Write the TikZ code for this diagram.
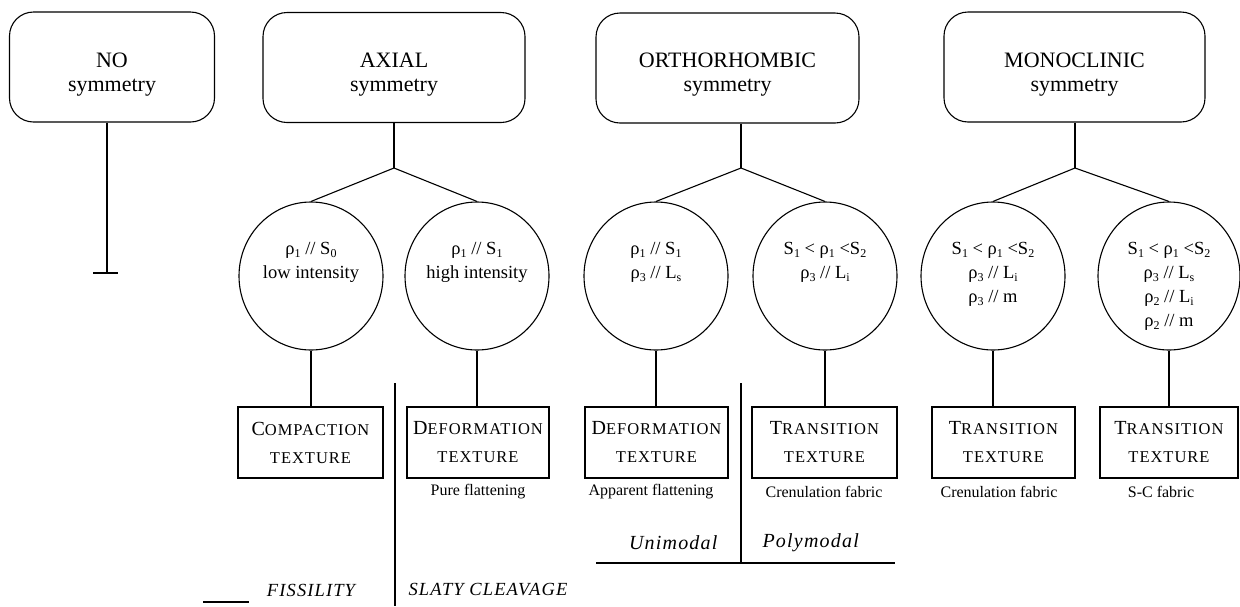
\documentclass[tikz,border=0pt]{standalone}
\usepackage{fontspec}
\setmainfont{Liberation Serif}
\newfontfamily\spacedfont[LetterSpace=6]{Liberation Serif}
\usetikzlibrary{shapes.geometric}
\newcommand\sbs[1]{\raisebox{-0.3ex}{\fontsize{12}{12}\selectfont #1}}
\newcommand\scbig[2]{{\spacedfont\fontsize{20}{22}\selectfont #1\fontsize{16.5}{22}\selectfont #2}}
\newcommand\scsmall[1]{{\spacedfont\fontsize{16.5}{22}\selectfont #1}}
\begin{document}
\begin{tikzpicture}[x=1pt,y=-1pt,line width=1.1pt,
  symbox/.style={draw,rounded corners=24pt,minimum height=110pt,inner sep=0pt},
  symtext/.style={inner sep=0pt,align=center,font=\fontsize{22}{24}\selectfont},
  circ/.style={draw,ellipse,minimum width=144pt,minimum height=148pt,inner sep=0pt},
  ctext/.style={anchor=north,align=center,inner sep=0pt,font=\fontsize{18.5}{24}\selectfont},
  texbox/.style={draw,minimum height=71pt,inner sep=0pt,align=center,
    font=\fontsize{20}{28}\selectfont},
  capt/.style={inner sep=0pt,font=\fontsize{16}{18}\selectfont},
  itl/.style={inner sep=0pt,font=\spacedfont\itshape\fontsize{20}{22}\selectfont},
  itlb/.style={inner sep=0pt,font=\spacedfont\itshape\fontsize{18.5}{22}\selectfont}]
\useasboundingbox (0,0) rectangle (1240,606);

% top boxes
\node[symbox,minimum width=205pt] (no) at (112,67) {};
\node[symbox,minimum width=262pt] (axial) at (394,67.5) {};
\node[symbox,minimum width=263pt] (ortho) at (727.5,68) {};
\node[symbox,minimum width=261pt] (mono) at (1074.5,67) {};
\node[symtext] (not) at (112,75) {NO\\symmetry};
\node[symtext] (axt) at (394,75) {AXIAL\\symmetry};
\node[symtext] (ort) at (727.5,75) {ORTHORHOMBIC\\symmetry};
\node[symtext] (mot) at (1074.5,75) {MONOCLINIC\\symmetry};

% NO symmetry stem
\coordinate (noend) at (107,273);
\coordinate (nobarl) at (93,273);
\coordinate (nobarr) at (118,273);
\draw (no.south -| noend) -- (noend);
\draw (nobarl) -- (nobarr);

% circles
\node[circ] (c1) at (311,276) {};
\node[circ] (c2) at (477,276) {};
\node[circ] (c3) at (656,276) {};
\node[circ] (c4) at (825,276) {};
\node[circ] (c5) at (993,276) {};
\node[circ,minimum width=142pt] (c6) at (1169,276) {};

\node[ctext] (t1) at (311,242) {ρ\sbs{1} // S\sbs{0}\\low intensity};
\node[ctext] (t2) at (477,242) {ρ\sbs{1} // S\sbs{1}\\high intensity};
\node[ctext] (t3) at (656,242) {ρ\sbs{1} // S\sbs{1}\\ρ\sbs{3} // L\sbs{s}};
\node[ctext] (t4) at (825,242) {S\sbs{1} < ρ\sbs{1} <S\sbs{2}\\ρ\sbs{3} // L\sbs{i}};
\node[ctext] (t5) at (993,242) {S\sbs{1} < ρ\sbs{1} <S\sbs{2}\\ρ\sbs{3} // L\sbs{i}\\ρ\sbs{3} // m};
\node[ctext] (t6) at (1169,242) {S\sbs{1} < ρ\sbs{1} <S\sbs{2}\\ρ\sbs{3} // L\sbs{s}\\ρ\sbs{2} // L\sbs{i}\\ρ\sbs{2} // m};

% branches
\coordinate (axb) at (394,168);
\coordinate (orb) at (741,168);
\coordinate (mob) at (1075,168);
\draw (axb |- axial.south) -- (axb);
\draw (c1.north) -- (axb) -- (c2.north);
\draw (orb |- ortho.south) -- (orb);
\draw (c3.north) -- (orb) -- (c4.north);
\draw (mob |- mono.south) -- (mob);
\draw (c5.north) -- (mob) -- (c6.north);

% texture boxes
\node[texbox,minimum width=145pt] (b1) at (310.5,442.5) {\scbig{C}{OMPACTION}\\\scsmall{TEXTURE}};
\node[texbox,minimum width=142pt] (b2) at (478,442.5) {\scbig{D}{EFORMATION}\\\scsmall{TEXTURE}};
\node[texbox,minimum width=143pt] (b3) at (656.5,442.5) {\scbig{D}{EFORMATION}\\\scsmall{TEXTURE}};
\node[texbox,minimum width=145pt] (b4) at (824.5,442.5) {\scbig{T}{RANSITION}\\\scsmall{TEXTURE}};
\node[texbox,minimum width=143pt] (b5) at (1003.5,442.5) {\scbig{T}{RANSITION}\\\scsmall{TEXTURE}};
\node[texbox,minimum width=138pt] (b6) at (1169,442.5) {\scbig{T}{RANSITION}\\\scsmall{TEXTURE}};

\foreach \c/\b in {c1/b1,c2/b2,c3/b3,c4/b4,c5/b5,c6/b6}
  \draw (\c.south) -- (\c.south |- \b.north);

% captions
\node[capt] (p2) at (478,492) {Pure flattening};
\node[capt] (p3) at (651,492) {Apparent flattening};
\node[capt] (p4) at (824,492) {Crenulation fabric};
\node[capt] (p5) at (999,492) {Crenulation fabric};
\node[capt] (p6) at (1161,492) {S-C fabric};

% separators
\coordinate (s1t) at (395,383);
\coordinate (s1b) at (395,606);
\draw (s1t) -- (s1b);
\coordinate (s2t) at (741,383);
\coordinate (s2b) at (741,563);
\draw (s2t) -- (s2b);
\coordinate (hl) at (596,563);
\coordinate (hr) at (895,563);
\draw (hl) -- (hr);
\coordinate (fl) at (203,602);
\coordinate (fr) at (249,602);
\draw (fl) -- (fr);

\node[itl,anchor=east] (uni) at (718,543) {Unimodal};
\node[itl,anchor=west] (poly) at (762,543) {Polymodal};
\node[itlb] (fis) at (311,590) {FISSILITY};
\node[itlb,anchor=west] (slaty) at (408,590) {SLATY CLEAVAGE};
\end{tikzpicture}
\end{document}
